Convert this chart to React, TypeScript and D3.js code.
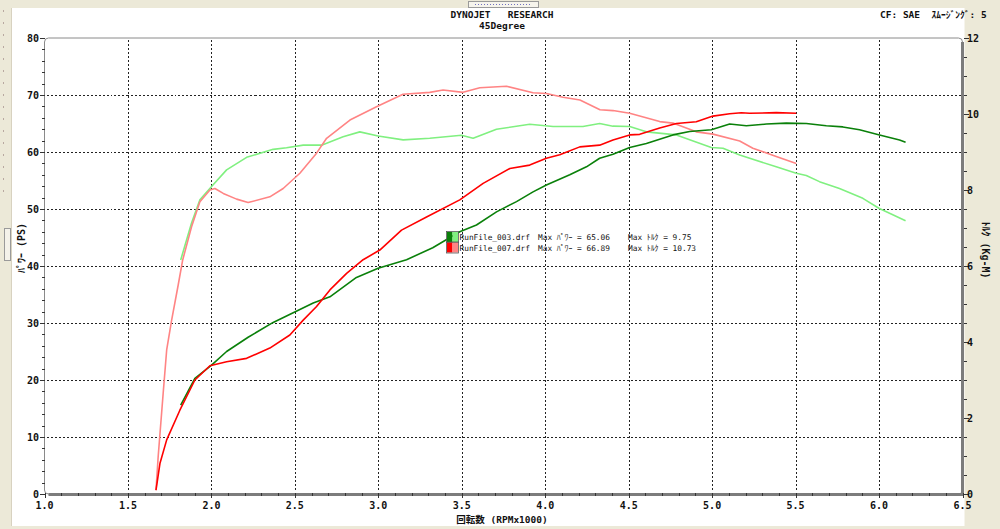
import * as d3 from 'd3';
import { useRef, useEffect } from 'react';

// RunFile_003 (green) and RunFile_007 (red), rpm x1000
const pwr003Rpm = [1.816, 1.901, 2.001, 2.091, 2.220, 2.370, 2.490, 2.610, 2.710, 2.869, 2.999, 3.169, 3.326, 3.488, 3.588, 3.708, 3.828, 3.927, 4.007, 4.147, 4.247, 4.326, 4.406, 4.506, 4.606, 4.765, 4.865, 4.995, 5.105, 5.205, 5.325, 5.444, 5.564, 5.684, 5.783, 5.883, 6.003, 6.123, 6.159];
const pwr003 = [15.6, 20.3, 22.6, 25.0, 27.5, 30.1, 31.8, 33.5, 34.6, 38.0, 39.6, 41.1, 43.2, 46.0, 47.2, 49.5, 51.3, 53.0, 54.2, 56.0, 57.4, 58.9, 59.6, 60.8, 61.5, 63.0, 63.6, 63.9, 64.9, 64.6, 64.9, 65.06, 65.0, 64.6, 64.4, 63.9, 63.0, 62.1, 61.7];

const trq003Rpm = [1.816, 1.881, 1.931, 2.001, 2.091, 2.211, 2.370, 2.450, 2.550, 2.660, 2.789, 2.889, 2.999, 3.149, 3.308, 3.498, 3.568, 3.708, 3.907, 4.047, 4.226, 4.326, 4.406, 4.506, 4.606, 4.786, 4.995, 5.065, 5.165, 5.384, 5.504, 5.564, 5.643, 5.763, 5.903, 5.999, 6.159];
const trq003 = [6.16, 7.13, 7.74, 8.09, 8.53, 8.86, 9.07, 9.11, 9.18, 9.18, 9.40, 9.53, 9.42, 9.32, 9.36, 9.44, 9.36, 9.60, 9.73, 9.67, 9.67, 9.75, 9.68, 9.67, 9.53, 9.45, 9.12, 9.10, 8.92, 8.61, 8.44, 8.38, 8.22, 8.04, 7.78, 7.52, 7.19];

const pwr007Rpm = [1.668, 1.692, 1.732, 1.811, 1.901, 1.991, 2.091, 2.211, 2.350, 2.470, 2.550, 2.630, 2.710, 2.810, 2.909, 3.009, 3.139, 3.289, 3.488, 3.628, 3.788, 3.907, 4.007, 4.087, 4.207, 4.326, 4.406, 4.506, 4.566, 4.686, 4.786, 4.905, 5.005, 5.105, 5.175, 5.224, 5.384, 5.504];
const pwr007 = [0.7, 5.4, 9.5, 14.7, 20.0, 22.5, 23.2, 23.8, 25.6, 27.9, 30.5, 32.9, 35.8, 38.7, 41.1, 42.8, 46.3, 48.6, 51.6, 54.5, 57.1, 57.7, 58.9, 59.5, 60.9, 61.2, 62.1, 63.0, 63.1, 64.2, 65.0, 65.3, 66.3, 66.7, 66.89, 66.8, 66.9, 66.8];

const trq007Rpm = [1.668, 1.681, 1.711, 1.732, 1.762, 1.801, 1.828, 1.881, 1.931, 1.991, 2.021, 2.071, 2.151, 2.220, 2.350, 2.430, 2.530, 2.630, 2.690, 2.830, 2.989, 3.148, 3.308, 3.388, 3.508, 3.608, 3.768, 3.927, 4.007, 4.107, 4.208, 4.328, 4.406, 4.506, 4.686, 4.765, 4.905, 5.005, 5.165, 5.244, 5.384, 5.504];
const trq007 = [0.1, 0.98, 2.65, 3.79, 4.58, 5.5, 6.16, 7.03, 7.69, 8.00, 8.04, 7.91, 7.76, 7.67, 7.82, 8.04, 8.44, 8.97, 9.36, 9.84, 10.19, 10.52, 10.57, 10.63, 10.57, 10.69, 10.73, 10.56, 10.54, 10.44, 10.37, 10.11, 10.09, 10.02, 9.80, 9.76, 9.53, 9.47, 9.29, 9.10, 8.88, 8.70];

const legendFiles = ['RunFile_003.drf', 'RunFile_007.drf'];
const legendMaxPwr = ['65.06', '66.89'];
const legendMaxTrq = ['9.75', '10.73'];

const xTicks = [1.0, 1.5, 2.0, 2.5, 3.0, 3.5, 4.0, 4.5, 5.0, 5.5, 6.0, 6.5];
const pwrTicks = [0, 10, 20, 30, 40, 50, 60, 70, 80];
const trqTicks = [0, 2, 4, 6, 8, 10, 12];

const FONT = "'DejaVu Sans Mono', 'Noto Sans CJK JP', monospace";

const DynoChart = () => {
    const ref: any = useRef();
    const W = 1000, H = 529;
    const left = 44.5, right = 962.5, top = 38, bottom = 494;

    useEffect(() => {
        const svg = d3.select(ref.current);
        svg.selectAll("*").remove();

        const x = d3.scaleLinear().domain([1, 6.5]).range([left, right]);
        const yP = d3.scaleLinear().domain([0, 80]).range([bottom, top]);
        const yT = d3.scaleLinear().domain([0, 12]).range([bottom, top]);

        // window background + white panel
        svg.append("rect").attr("width", W).attr("height", H).attr("fill", "#ECE9D8");
        svg.append("rect").attr("x", 11).attr("y", 8).attr("width", right - 11 + 2).attr("height", 518).attr("fill", "#fff");
        svg.append("line").attr("x1", 3.5).attr("x2", 3.5).attr("y1", 10).attr("y2", 200)
            .attr("stroke", "#b8a8a0").attr("stroke-dasharray", "2,10");
        svg.append("line").attr("x1", 11.5).attr("x2", 11.5).attr("y1", 8).attr("y2", 526).attr("stroke", "#d8d2c0");
        // little splitter widgets
        svg.append("rect").attr("x", 4.5).attr("y", 228.5).attr("width", 6).attr("height", 32)
            .attr("fill", "#f4f2ea").attr("stroke", "#9a9a9a");
        svg.append("rect").attr("x", 468.5).attr("y", 1.5).attr("width", 70).attr("height", 6)
            .attr("fill", "#f6f4ec").attr("stroke", "#9a9a9a");
        svg.append("line").attr("x1", 475).attr("x2", 532).attr("y1", 4.5).attr("y2", 4.5)
            .attr("stroke", "#7070c0").attr("stroke-dasharray", "1,2");

        // titles
        const txt = (xx: number, yy: number, s: string, anchor = "middle", size = 10) =>
            svg.append("text").attr("x", xx).attr("y", yy).attr("text-anchor", anchor)
                .attr("font-family", FONT).attr("font-size", size).attr("font-weight", "bold")
                .attr("fill", "#111").style("white-space", "pre").text(s);

        txt(502, 18, "DYNOJET   RESEARCH", "middle", 9.5);
        txt(502, 29, "45Degree", "middle", 9.5);
        txt(880, 18, "CF: SAE  ｽﾑｰｼﾞﾝｸﾞ: 5", "start", 9.5);

        // plot frame
        svg.append("rect").attr("x", left).attr("y", top).attr("width", right - left).attr("height", bottom - top)
            .attr("rx", 4).attr("fill", "#fff").attr("stroke", "#8a8a8a").attr("stroke-width", 1);
        svg.append("rect").attr("x", right - 1.5).attr("y", top + 4).attr("width", 3).attr("height", bottom - top - 3)
            .attr("fill", "#7c7c7c");
        svg.append("rect").attr("x", left + 4).attr("y", bottom - 1).attr("width", right - left - 3).attr("height", 3)
            .attr("fill", "#7c7c7c");

        // grid
        const grid = svg.append("g").attr("stroke", "#222").attr("stroke-width", 1).attr("stroke-dasharray", "2,2")
            .attr("shape-rendering", "crispEdges");
        grid.selectAll("line.v").data(xTicks.filter(t => t > 1 && t < 6.5)).enter().append("line")
            .attr("x1", d => Math.round(x(d)) + 0.5).attr("x2", d => Math.round(x(d)) + 0.5)
            .attr("y1", top + 2).attr("y2", bottom - 2);
        grid.selectAll("line.h").data(pwrTicks.filter(t => t > 0 && t < 80)).enter().append("line")
            .attr("y1", d => Math.round(yP(d)) + 0.5).attr("y2", d => Math.round(yP(d)) + 0.5)
            .attr("x1", left + 2).attr("x2", right - 2);

        // ticks
        const tk = svg.append("g").attr("stroke", "#333").attr("stroke-width", 1).attr("shape-rendering", "crispEdges");
        d3.range(0, 80.01, 2).forEach(v => {
            const major = v % 10 === 0;
            tk.append("line").attr("x1", left - (major ? 5 : 3)).attr("x2", left)
                .attr("y1", Math.round(yP(v)) + 0.5).attr("y2", Math.round(yP(v)) + 0.5);
        });
        d3.range(0, 12.01, 0.5).forEach(v => {
            const major = v % 2 === 0;
            tk.append("line").attr("x1", right + 1).attr("x2", right + (major ? 6 : 4))
                .attr("y1", Math.round(yT(v)) + 0.5).attr("y2", Math.round(yT(v)) + 0.5);
        });
        d3.range(1, 6.501, 0.1).forEach(v => {
            const major = Math.abs(v * 2 - Math.round(v * 2)) < 1e-6;
            tk.append("line").attr("x1", Math.round(x(v)) + 0.5).attr("x2", Math.round(x(v)) + 0.5)
                .attr("y1", bottom - 1).attr("y2", bottom + (major ? 4 : 2));
        });

        pwrTicks.forEach(v => txt(39, yP(v) + 3.5, String(v), "end"));
        trqTicks.forEach(v => txt(967, yT(v) + 3.5, String(v), "start"));
        xTicks.forEach(v => txt(x(v), bottom + 15, v.toFixed(1), "middle"));

        txt(502, 523, "回転数 (RPMx1000)", "middle", 9.5);
        txt(0, 0, "ﾊﾟﾜｰ (PS)", "middle", 10).attr("transform", "translate(25,248) rotate(-90)");
        txt(0, 0, "ﾄﾙｸ (Kg-M)", "middle", 10).attr("transform", "translate(982,250) rotate(90)");

        // curves
        const series = [
            { rpm: trq003Rpm, v: trq003, y: yT, color: "#80f080" },
            { rpm: trq007Rpm, v: trq007, y: yT, color: "#ff8484" },
            { rpm: pwr003Rpm, v: pwr003, y: yP, color: "#0a800a" },
            { rpm: pwr007Rpm, v: pwr007, y: yP, color: "#ff0000" },
        ];
        series.forEach(s => {
            const line = d3.line<number>().x((d, i) => x(s.rpm[i])).y(d => s.y(d));
            svg.append("path").attr("d", line(s.v)).attr("fill", "none")
                .attr("stroke", s.color).attr("stroke-width", 1.6).attr("stroke-linejoin", "round");
        });

        // legend
        const swatch = [["#0a800a", "#80f080"], ["#ff0000", "#ff8484"]];
        legendFiles.forEach((f, i) => {
            const ly = 232 + i * 10.5;
            svg.append("rect").attr("x", 447).attr("y", ly).attr("width", 5.5).attr("height", 10).attr("fill", swatch[i][0]);
            svg.append("rect").attr("x", 452.5).attr("y", ly).attr("width", 5.5).attr("height", 10).attr("fill", swatch[i][1]);
            svg.append("rect").attr("x", 446.5).attr("y", ly - 0.5).attr("width", 12).attr("height", 11)
                .attr("fill", "none").attr("stroke", "#555").attr("stroke-width", 0.8);
            const lt = (xx: number, s: string) => svg.append("text").attr("x", xx).attr("y", ly + 8)
                .attr("font-family", FONT).attr("font-size", 7.8).attr("fill", "#111").style("white-space", "pre").text(s);
            lt(459.5, f);
            lt(538, "Max ﾊﾟﾜｰ = " + legendMaxPwr[i]);
            lt(628, "Max ﾄﾙｸ = " + legendMaxTrq[i]);
        });
    }, []);

    return (
        <svg ref={ref} width={W} height={H} style={{ position: "absolute", left: 0, top: 0 }}>
        </svg>
    );
};

export default function App() {
    return <DynoChart />;
}
